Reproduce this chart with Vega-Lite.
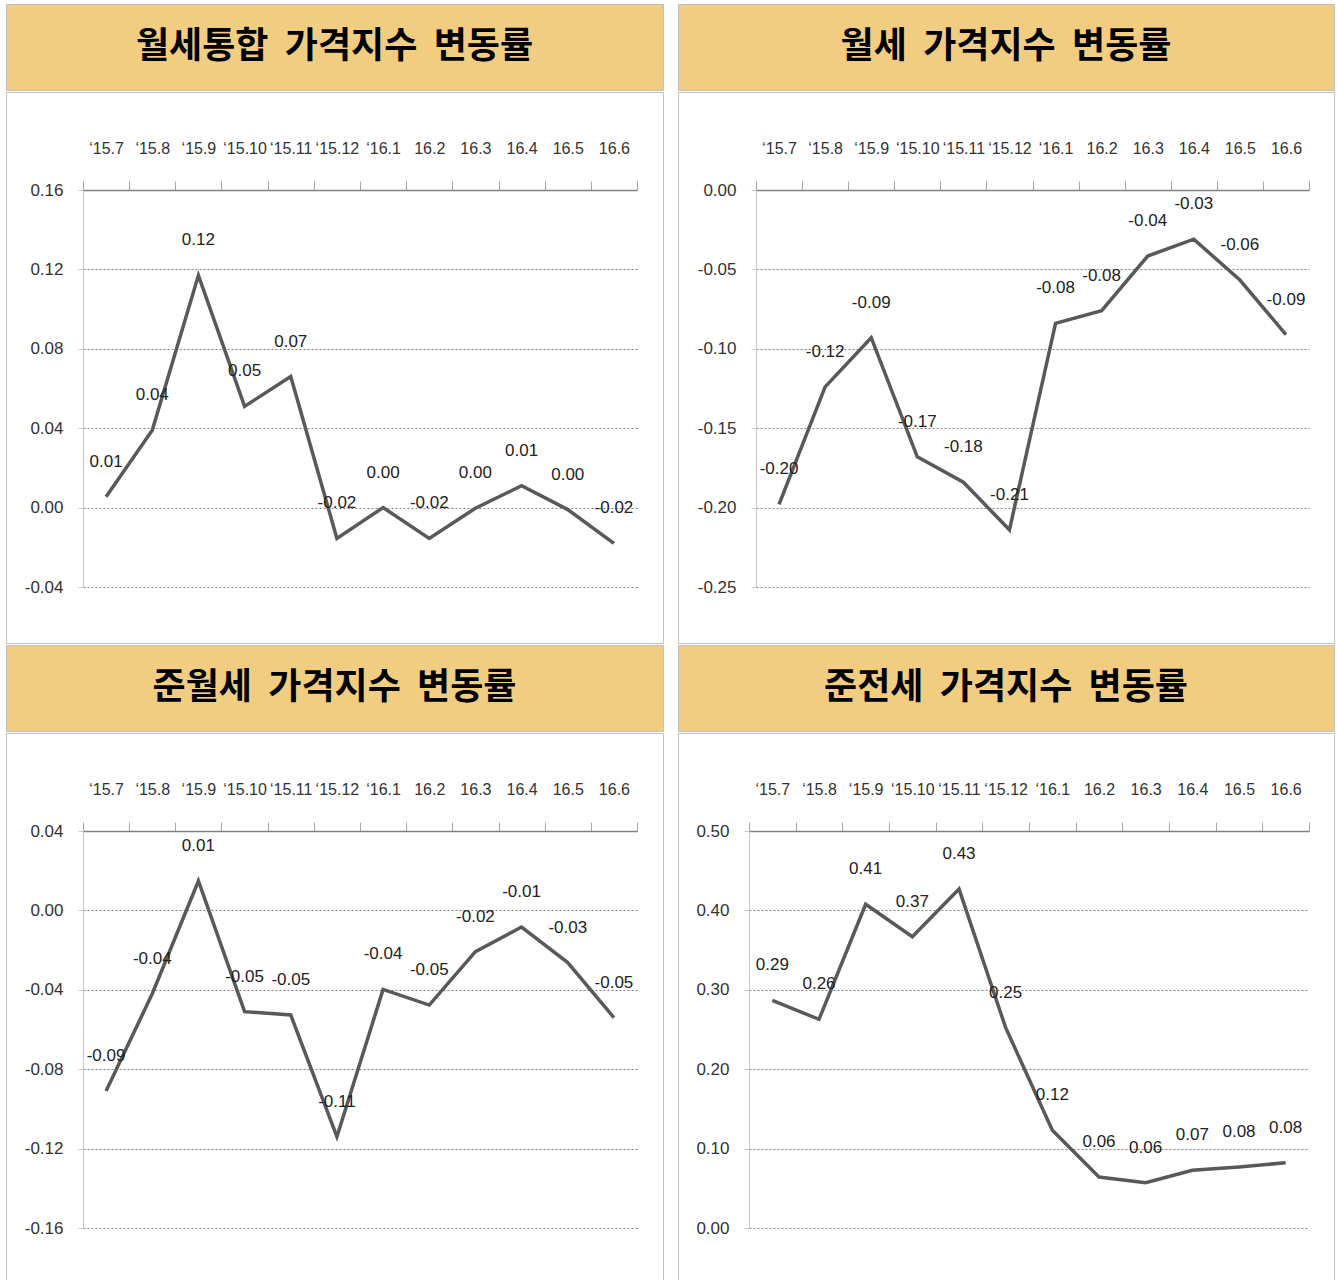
{
  "$schema": "https://vega.github.io/schema/vega-lite/v6.json",
  "padding": {"left": 5, "top": 3, "right": 0, "bottom": 0},
  "background": "white",
  "spacing": 0,
  "datasets": {
    "p1": [
      {"month": "‘15.7", "value": 0.0055},
      {"month": "‘15.8", "value": 0.039},
      {"month": "‘15.9", "value": 0.117},
      {"month": "‘15.10", "value": 0.051},
      {"month": "‘15.11", "value": 0.066},
      {"month": "‘15.12", "value": -0.0155},
      {"month": "‘16.1", "value": 0.0},
      {"month": "16.2", "value": -0.0155},
      {"month": "16.3", "value": -0.0003},
      {"month": "16.4", "value": 0.011},
      {"month": "16.5", "value": -0.001},
      {"month": "16.6", "value": -0.018}
    ],
    "p2": [
      {"month": "‘15.7", "value": -0.198},
      {"month": "‘15.8", "value": -0.124},
      {"month": "‘15.9", "value": -0.093},
      {"month": "‘15.10", "value": -0.168},
      {"month": "‘15.11", "value": -0.184},
      {"month": "‘15.12", "value": -0.214},
      {"month": "‘16.1", "value": -0.084},
      {"month": "16.2", "value": -0.076},
      {"month": "16.3", "value": -0.0416},
      {"month": "16.4", "value": -0.031},
      {"month": "16.5", "value": -0.0567},
      {"month": "16.6", "value": -0.091}
    ],
    "p3": [
      {"month": "‘15.7", "value": -0.091},
      {"month": "‘15.8", "value": -0.042},
      {"month": "‘15.9", "value": 0.0148},
      {"month": "‘15.10", "value": -0.051},
      {"month": "‘15.11", "value": -0.0527},
      {"month": "‘15.12", "value": -0.114},
      {"month": "‘16.1", "value": -0.0398},
      {"month": "16.2", "value": -0.0477},
      {"month": "16.3", "value": -0.0208},
      {"month": "16.4", "value": -0.0084},
      {"month": "16.5", "value": -0.0263},
      {"month": "16.6", "value": -0.054}
    ],
    "p4": [
      {"month": "‘15.7", "value": 0.2868},
      {"month": "‘15.8", "value": 0.2628},
      {"month": "‘15.9", "value": 0.4077},
      {"month": "‘15.10", "value": 0.367},
      {"month": "‘15.11", "value": 0.427},
      {"month": "‘15.12", "value": 0.2523},
      {"month": "‘16.1", "value": 0.123},
      {"month": "16.2", "value": 0.0642},
      {"month": "16.3", "value": 0.057},
      {"month": "16.4", "value": 0.0726},
      {"month": "16.5", "value": 0.0768},
      {"month": "16.6", "value": 0.0823}
    ]
  },
  "vconcat": [
    {
      "spacing": 0,
      "vconcat": [
        {
          "hconcat": [
            {
              "width": 657, "height": 86,
              "view": {"fill": "#F1CD82", "stroke": "#c0c0c0"},
              "data": {"values": [{"t": "월세통합\u00a0 가격지수\u00a0 변동률"}]},
              "mark": {"type": "text", "font": "Noto Sans CJK KR", "fontWeight": "bold", "fontSize": 36, "color": "#000000", "baseline": "middle", "align": "center"},
              "encoding": {"text": {"field": "t"}}
            },
            {
              "width": 656, "height": 86,
              "view": {"fill": "#F1CD82", "stroke": "#c0c0c0"},
              "data": {"values": [{"t": "월세\u00a0 가격지수\u00a0 변동률"}]},
              "mark": {"type": "text", "font": "Noto Sans CJK KR", "fontWeight": "bold", "fontSize": 36, "color": "#000000", "baseline": "middle", "align": "center"},
              "encoding": {"text": {"field": "t"}}
            }
          ],
          "spacing": 15, "bounds": "flush"
        },
        {
          "hconcat": [
            {
              "width": 657, "height": 551,
              "view": {"fill": "white", "stroke": "#c0c0c0"},
              "data": {"name": "p1"},
              "encoding": {
                "x": {"field": "month", "type": "nominal", "sort": null, "title": null,
                      "scale": {"type": "band", "range": [77, 631], "paddingInner": 0, "paddingOuter": 0},
                      "axis": {"orient": "top", "offset": -98}},
                "y": {"field": "value", "type": "quantitative", "title": null,
                      "scale": {"domain": [-0.04, 0.16], "range": [495, 98], "nice": false, "zero": false},
                      "axis": {"orient": "left", "offset": -77, "values": [-0.04, 0, 0.04, 0.08, 0.12, 0.16], "format": ".2f"}}
              },
              "layer": [
                {"mark": {"type": "line", "color": "#595959", "strokeWidth": 3.5}},
                {"mark": {"type": "text", "dy": -35}, "encoding": {"text": {"field": "value", "type": "quantitative", "format": ".2f"}}}
              ]
            },
            {
              "width": 656, "height": 551,
              "view": {"fill": "white", "stroke": "#c0c0c0"},
              "data": {"name": "p2"},
              "encoding": {
                "x": {"field": "month", "type": "nominal", "sort": null, "title": null,
                      "scale": {"type": "band", "range": [78, 631], "paddingInner": 0, "paddingOuter": 0},
                      "axis": {"orient": "top", "offset": -98}},
                "y": {"field": "value", "type": "quantitative", "title": null,
                      "scale": {"domain": [-0.25, 0], "range": [495, 98], "nice": false, "zero": false},
                      "axis": {"orient": "left", "offset": -78, "values": [-0.25, -0.2, -0.15, -0.1, -0.05, 0], "format": ".2f"}}
              },
              "layer": [
                {"mark": {"type": "line", "color": "#595959", "strokeWidth": 3.5}},
                {"mark": {"type": "text", "dy": -35}, "encoding": {"text": {"field": "value", "type": "quantitative", "format": ".2f"}}}
              ]
            }
          ],
          "spacing": 15, "bounds": "flush"
        }
      ]
    },
    {
      "spacing": 0,
      "vconcat": [
        {
          "hconcat": [
            {
              "width": 657, "height": 86,
              "view": {"fill": "#F1CD82", "stroke": "#c0c0c0"},
              "data": {"values": [{"t": "준월세\u00a0 가격지수\u00a0 변동률"}]},
              "mark": {"type": "text", "font": "Noto Sans CJK KR", "fontWeight": "bold", "fontSize": 36, "color": "#000000", "baseline": "middle", "align": "center"},
              "encoding": {"text": {"field": "t"}}
            },
            {
              "width": 656, "height": 86,
              "view": {"fill": "#F1CD82", "stroke": "#c0c0c0"},
              "data": {"values": [{"t": "준전세\u00a0 가격지수\u00a0 변동률"}]},
              "mark": {"type": "text", "font": "Noto Sans CJK KR", "fontWeight": "bold", "fontSize": 36, "color": "#000000", "baseline": "middle", "align": "center"},
              "encoding": {"text": {"field": "t"}}
            }
          ],
          "spacing": 15, "bounds": "flush"
        },
        {
          "hconcat": [
            {
              "width": 657, "height": 551,
              "view": {"fill": "white", "stroke": "#c0c0c0"},
              "data": {"name": "p3"},
              "encoding": {
                "x": {"field": "month", "type": "nominal", "sort": null, "title": null,
                      "scale": {"type": "band", "range": [77, 631], "paddingInner": 0, "paddingOuter": 0},
                      "axis": {"orient": "top", "offset": -98}},
                "y": {"field": "value", "type": "quantitative", "title": null,
                      "scale": {"domain": [-0.16, 0.04], "range": [495, 98], "nice": false, "zero": false},
                      "axis": {"orient": "left", "offset": -77, "values": [-0.16, -0.12, -0.08, -0.04, 0, 0.04], "format": ".2f"}}
              },
              "layer": [
                {"mark": {"type": "line", "color": "#595959", "strokeWidth": 3.5}},
                {"mark": {"type": "text", "dy": -35}, "encoding": {"text": {"field": "value", "type": "quantitative", "format": ".2f"}}}
              ]
            },
            {
              "width": 656, "height": 551,
              "view": {"fill": "white", "stroke": "#c0c0c0"},
              "data": {"name": "p4"},
              "encoding": {
                "x": {"field": "month", "type": "nominal", "sort": null, "title": null,
                      "scale": {"type": "band", "range": [71, 631], "paddingInner": 0, "paddingOuter": 0},
                      "axis": {"orient": "top", "offset": -98}},
                "y": {"field": "value", "type": "quantitative", "title": null,
                      "scale": {"domain": [0, 0.5], "range": [495, 98], "nice": false, "zero": false},
                      "axis": {"orient": "left", "offset": -71, "values": [0, 0.1, 0.2, 0.3, 0.4, 0.5], "format": ".2f"}}
              },
              "layer": [
                {"mark": {"type": "line", "color": "#595959", "strokeWidth": 3.5}},
                {"mark": {"type": "text", "dy": -35}, "encoding": {"text": {"field": "value", "type": "quantitative", "format": ".2f"}}}
              ]
            }
          ],
          "spacing": 15, "bounds": "flush"
        }
      ]
    }
  ],
  "config": {
    "locale": {"number": {"decimal": ".", "thousands": ",", "grouping": [3], "currency": ["", ""], "minus": "-"}},
    "axis": {
      "labelFont": "Liberation Sans",
      "labelFontSize": 17,
      "labelColor": "#333333"
    },
    "axisX": {
      "domainColor": "#808080", "domainWidth": 1.5,
      "tickColor": "#a6a6a6", "tickSize": 9, "tickBand": "extent",
      "labelPadding": 25, "labelFontSize": 16, "grid": false, "labelOverlap": false, "labelAngle": 0
    },
    "axisY": {
      "domainColor": "#c8c8c8", "tickColor": "#c8c8c8", "tickSize": 5,
      "labelPadding": 15, "grid": true, "gridColor": "#808080", "gridDash": [2, 2], "gridWidth": 1
    },
    "text": {
      "font": "Liberation Sans",
      "fontSize": 17,
      "color": "#222222",
      "baseline": "middle"
    }
  }
}
